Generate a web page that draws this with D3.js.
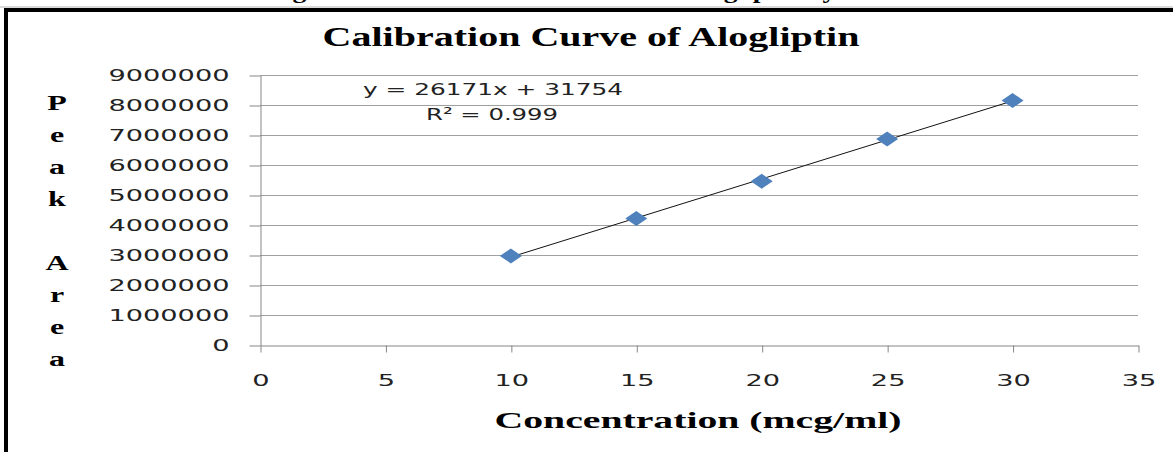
<!DOCTYPE html>
<html lang="en">
<head>
  <meta charset="UTF-8">
  <title>Calibration Curve of Alogliptin</title>
  <script src="https://d3js.org/d3.v7.min.js"></script>
  <style>
    body { margin: 0; background: #fff; }
    svg { display: block; }
  </style>
</head>
<body>
  <svg width="1173" height="452"></svg>
  <script>
    // values
    var concentration = [10, 15, 20, 25, 30];
    var peakArea = [2970000, 4220000, 5460000, 6870000, 8150000];
    var xTicks = [0, 5, 10, 15, 20, 25, 30, 35];
    var yTicks = [0, 1000000, 2000000, 3000000, 4000000, 5000000, 6000000, 7000000, 8000000, 9000000];
    var yTitleLetters = ["P", "e", "a", "k", "", "A", "r", "e", "a"];

    var svg = d3.select("svg");
    var stretch = 1.6; // picture is widened horizontally

    var xScale = d3.scaleLinear().domain([0, 35]).range([260, 1138]),
        yScale = d3.scaleLinear().domain([0, 9000000]).range([345, 75]);

    // caption above the frame, only its bottom edge is in the picture
    svg.append("clipPath").attr("id", "capclip")
       .append("rect").attr("x", 0).attr("y", 0).attr("width", 1173).attr("height", 6);
    svg.append("text")
       .attr("clip-path", "url(#capclip)")
       .attr("x", 268).attr("y", -2.5)
       .attr("font-family", "Liberation Serif").attr("font-weight", "bold")
       .attr("font-size", 20)
       .attr("textLength", 652).attr("lengthAdjust", "spacingAndGlyphs")
       .text("Figure No. 3: Calibration Curve of Alogliptin by HPLC");

    // frame
    svg.append("line").attr("x1", 0).attr("x2", 1173).attr("y1", 7).attr("y2", 7)
       .attr("stroke", "#b4b4b4").attr("stroke-width", 1);
    svg.append("line").attr("x1", 4).attr("x2", 1173).attr("y1", 10).attr("y2", 10)
       .attr("stroke", "#000").attr("stroke-width", 4);
    svg.append("line").attr("x1", 6).attr("x2", 6).attr("y1", 8).attr("y2", 452)
       .attr("stroke", "#000").attr("stroke-width", 4);

    // title
    svg.append("text")
       .attr("x", 591).attr("y", 46)
       .attr("text-anchor", "middle")
       .attr("font-family", "Liberation Serif").attr("font-weight", "bold")
       .attr("font-size", 27)
       .attr("textLength", 537).attr("lengthAdjust", "spacingAndGlyphs")
       .text("Calibration Curve of Alogliptin");

    // gridlines
    svg.append("g")
       .selectAll("line")
       .data(yTicks.slice(1))
       .enter().append("line")
       .attr("x1", xScale(0)).attr("x2", xScale(35))
       .attr("y1", function(d) { return yScale(d) + 0.5; })
       .attr("y2", function(d) { return yScale(d) + 0.5; })
       .attr("stroke", "#a0a0a0").attr("stroke-width", 1);

    // axes
    var yAxis = svg.append("g")
       .attr("transform", "translate(" + (xScale(0) + 0.5) + ",0.5)")
       .call(d3.axisLeft(yScale).tickValues(yTicks).tickSize(11).tickSizeOuter(0).tickPadding(20)
             .tickFormat(function(d) { return "" + d; }));

    var xAxis = svg.append("g")
       .attr("transform", "translate(0.5," + (yScale(0) + 0.5) + ")")
       .call(d3.axisBottom(xScale).tickValues(xTicks).tickSize(7).tickSizeOuter(0)
             .tickFormat(function(d) { return "" + d; }));

    [yAxis, xAxis].forEach(function(ax) {
      ax.selectAll("path, line").attr("stroke", "#868686");
      ax.selectAll("text")
        .attr("fill", "#222")
        .attr("font-family", "DejaVu Sans")
        .attr("font-size", 16.5)
        .attr("lengthAdjust", "spacingAndGlyphs")
        .attr("textLength", function() { return this.textContent.length * 17.3; });
    });
    xAxis.selectAll("text").attr("y", 40).attr("dy", 0);

    // axis titles
    svg.append("text")
       .attr("x", 698).attr("y", 428)
       .attr("text-anchor", "middle")
       .attr("font-family", "Liberation Serif").attr("font-weight", "bold")
       .attr("font-size", 24)
       .attr("textLength", 407).attr("lengthAdjust", "spacingAndGlyphs")
       .text("Concentration (mcg/ml)");

    svg.append("g")
       .selectAll("text")
       .data(yTitleLetters)
       .enter().append("text")
       .attr("transform", function(d, i) { return "translate(57," + (110 + i * 32) + ") scale(" + stretch + ",1)"; })
       .attr("text-anchor", "middle")
       .attr("font-family", "Liberation Serif").attr("font-weight", "bold")
       .attr("font-size", 20)
       .text(function(d) { return d; });

    // least squares trendline through the points
    var mx = d3.mean(concentration),
        my = d3.mean(peakArea),
        sxy = d3.sum(concentration, function(x, i) { return (x - mx) * (peakArea[i] - my); }),
        sxx = d3.sum(concentration, function(x) { return (x - mx) * (x - mx); }),
        slope = sxy / sxx,
        icpt = my - slope * mx;

    var xMin = d3.min(concentration), xMax = d3.max(concentration);
    svg.append("line")
       .attr("x1", xScale(xMin)).attr("y1", yScale(slope * xMin + icpt))
       .attr("x2", xScale(xMax)).attr("y2", yScale(slope * xMax + icpt))
       .attr("stroke", "#111").attr("stroke-width", 1);

    // diamonds
    svg.append("g")
       .selectAll("path")
       .data(concentration)
       .enter().append("path")
       .attr("transform", function(d, i) { return "translate(" + xScale(d) + "," + yScale(peakArea[i]) + ")"; })
       .attr("d", "M-11,0L0,-7.5L11,0L0,7.5Z")
       .attr("fill", "#4f81bd");

    // equation labels
    svg.append("text")
       .attr("x", 363).attr("y", 95)
       .attr("font-family", "DejaVu Sans").attr("font-size", 16.5).attr("fill", "#222")
       .attr("textLength", 260).attr("lengthAdjust", "spacingAndGlyphs")
       .text("y = 26171x + 31754");
    svg.append("text")
       .attr("x", 426).attr("y", 120)
       .attr("font-family", "DejaVu Sans").attr("font-size", 16.5).attr("fill", "#222")
       .attr("textLength", 132).attr("lengthAdjust", "spacingAndGlyphs")
       .text("R² = 0.999");
  </script>
</body>
</html>
